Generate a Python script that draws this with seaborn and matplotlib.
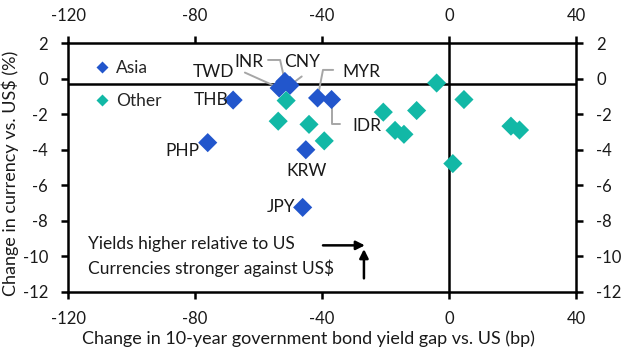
import matplotlib
matplotlib.use("Agg")
import matplotlib.pyplot as plt
from matplotlib.lines import Line2D
import seaborn as sns
import pandas as pd

# ---- data ----
asia_labels = ["THB", "PHP", "TWD", "INR", "CNY", "MYR", "IDR", "KRW", "JPY"]
asia_x = [-68.0, -76.0, -53.5, -51.7, -50.1, -41.4, -37.0, -45.1, -46.1]
asia_y = [-1.2, -3.6, -0.52, -0.15, -0.37, -1.08, -1.17, -4.0, -7.25]

other_x = [-51.3, -53.8, -44.1, -39.3, -3.9, 4.7, -20.7, -10.2, -17.0, -14.2, 19.5, 22.2, 1.2]
other_y = [-1.23, -2.39, -2.57, -3.5, -0.24, -1.17, -1.88, -1.79, -2.91, -3.13, -2.67, -2.89, -4.78]

x_ticks = [-120, -80, -40, 0, 40]
y_ticks = [2, 0, -2, -4, -6, -8, -10, -12]
ref_y = -0.3
ref_x = 0

# label text positions (annotation layout) and leader-line elbows
label_pos = {
    "THB": (-75.0, -1.17), "PHP": (-84.0, -4.07), "TWD": (-74.3, 0.41),
    "INR": (-63.0, 0.97), "CNY": (-46.4, 0.97), "MYR": (-27.5, 0.41),
    "IDR": (-26.0, -2.67), "KRW": (-45.0, -5.19), "JPY": (-53.0, -7.22),
}
leaders = {
    "TWD": [(-64.3, 0.35)],
    "INR": [(-57.0, 1.06), (-53.2, 1.06)],
    "CNY": [(-46.4, 0.13)],
    "MYR": [(-36.5, 0.5), (-39.7, 0.5)],
    "IDR": [(-34.3, -2.57), (-37.0, -2.57)],
}

BLUE = "#2256cc"
TEAL = "#12b8a6"
GREY = "#a6a6a6"

df = pd.DataFrame({
    "x": asia_x + other_x,
    "y": asia_y + other_y,
    "group": ["Asia"] * len(asia_x) + ["Other"] * len(other_x),
})

sns.set_theme(style="white")
plt.rcParams["font.family"] = ["Lato", "DejaVu Sans"]
plt.rcParams["axes.unicode_minus"] = False

fig = plt.figure(figsize=(6.27, 3.52), dpi=100)
ax = fig.add_axes([0.1085, 0.1714, 0.8102, 0.7056])

ax.axhline(ref_y, color="black", lw=1.8, zorder=1)
ax.axvline(ref_x, color="black", lw=1.8, zorder=1)

# leader lines
for lab, pts in leaders.items():
    i = asia_labels.index(lab)
    xs = [p[0] for p in pts] + [asia_x[i]]
    ys = [p[1] for p in pts] + [asia_y[i]]
    ax.plot(xs, ys, color=GREY, lw=1.4, zorder=2)

sns.scatterplot(data=df, x="x", y="y", hue="group", palette={"Asia": BLUE, "Other": TEAL},
                marker="D", s=95, edgecolor="none", legend=False, ax=ax, zorder=3)

fs = 12.5
tc = "#1a1a1a"
for lab in asia_labels:
    tx, ty = label_pos[lab]
    ax.text(tx, ty, lab, fontsize=fs, ha="center", va="center", color=tc)

ax.text(-113.7, -9.29, "Yields higher relative to US", fontsize=fs, ha="left", va="center", color=tc)
ax.text(-113.7, -10.7, r"Currencies stronger against US\$", fontsize=fs, ha="left", va="center", color=tc)
ax.annotate("", xy=(-26.5, -9.39), xytext=(-39.7, -9.39),
            arrowprops=dict(arrowstyle="-|>", color="black", lw=1.8, mutation_scale=13, shrinkA=0, shrinkB=0))
ax.annotate("", xy=(-26.8, -9.6), xytext=(-26.8, -11.25),
            arrowprops=dict(arrowstyle="-|>", color="black", lw=1.8, mutation_scale=13, shrinkA=0, shrinkB=0))

ax.set_xlim(-120, 40)
ax.set_ylim(-12, 2)
ax.set_xticks(x_ticks)
ax.set_yticks(y_ticks)
ax.set_xticklabels([str(t) for t in x_ticks])
ax.set_yticklabels([str(t) for t in y_ticks])
ax.tick_params(axis="both", which="both", direction="out", length=5, width=1.8, color="black",
               labelsize=12, labelcolor=tc, top=True, right=True, labeltop=True, labelright=True,
               bottom=True, left=True)
ax.tick_params(axis="x", pad=9)
ax.tick_params(axis="y", pad=9.5)
for sp in ax.spines.values():
    sp.set_visible(True)
    sp.set_color("black")
    sp.set_linewidth(1.8)

ax.set_xlabel("Change in 10-year government bond yield gap vs. US (bp)", fontsize=13, color=tc, labelpad=2)
ax.set_ylabel(r"Change in currency vs. US\$ (%)", fontsize=13, color=tc)
ax.xaxis.set_label_coords(0.474, -0.155)
ax.xaxis.label.set_va("top")
ax.yaxis.set_label_coords(-0.0965, 0.476)

handles = [Line2D([0], [0], marker="D", color="none", markerfacecolor=BLUE, markeredgecolor="none", markersize=6, label="Asia"),
           Line2D([0], [0], marker="D", color="none", markerfacecolor=TEAL, markeredgecolor="none", markersize=6, label="Other")]
ax.legend(handles=handles, loc="upper left", bbox_to_anchor=(0.04, 0.96), frameon=False, fontsize=fs,
          handlelength=0.8, handletextpad=0.4, labelspacing=0.95, borderaxespad=0)

fig.savefig("out.png", dpi=100)
